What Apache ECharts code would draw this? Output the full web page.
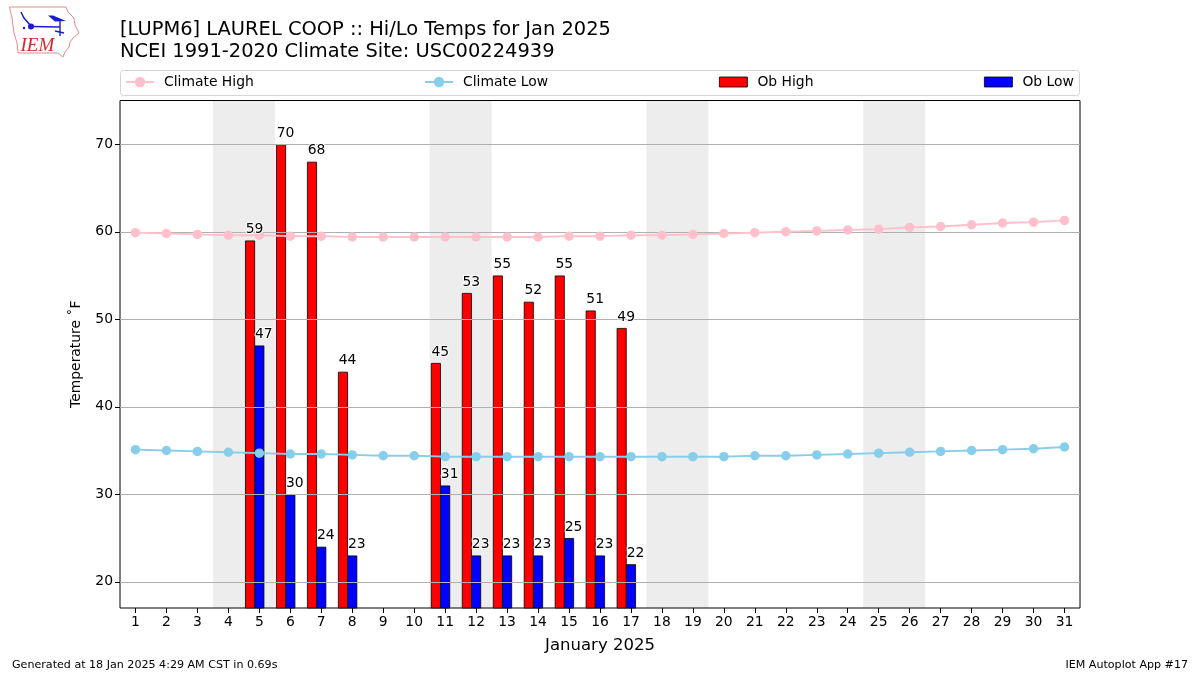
<!DOCTYPE html>
<html>
<head>
<meta charset="utf-8">
<style>html,body{margin:0;padding:0;background:#fff}#chart{width:1200px;height:675px}</style>
<script src="https://cdn.jsdelivr.net/npm/echarts@6/dist/echarts.min.js"></script>
</head>
<body>
<div id="chart"></div>
<script>
const days = [1,2,3,4,5,6,7,8,9,10,11,12,13,14,15,16,17,18,19,20,21,22,23,24,25,26,27,28,29,30,31];
const yTicks = [20,30,40,50,60,70];
const climateHigh = [59.9,59.8,59.7,59.6,59.6,59.5,59.5,59.4,59.4,59.4,59.4,59.4,59.4,59.4,59.5,59.5,59.6,59.6,59.7,59.8,59.9,60,60.1,60.2,60.3,60.5,60.6,60.8,61,61.1,61.3];
const climateLow = [35.1,35,34.9,34.8,34.7,34.6,34.6,34.5,34.4,34.4,34.3,34.3,34.3,34.3,34.3,34.3,34.3,34.3,34.3,34.3,34.4,34.4,34.5,34.6,34.7,34.8,34.9,35,35.1,35.2,35.4];
const obDays = [5,6,7,8,11,12,13,14,15,16,17];
const obHigh = [59,70,68,44,45,53,55,52,55,51,49];
const obLow = [47,30,24,23,31,23,23,23,25,23,22];
const weekendSpans = [[3.5,5.5],[10.5,12.5],[17.5,19.5],[24.5,26.5]];
const titleText = "[LUPM6] LAUREL COOP :: Hi/Lo Temps for Jan 2025\nNCEI 1991-2020 Climate Site: USC00224939";
const yAxisName = "Temperature ˚F";
const xAxisName = "January 2025";
const footerLeft = "Generated at 18 Jan 2025 4:29 AM CST in 0.69s";
const footerRight = "IEM Autoplot App #17";

const FONT = "DejaVu Sans";
const chart = echarts.init(document.getElementById('chart'), null, {renderer:'canvas'});

function labelSeries(name, pts){
  return {name:name, type:'scatter', z:6, silent:true, symbolSize:0, itemStyle:{opacity:1}, data:pts,
    label:{show:true, position:'top', distance:4, offset:[4.5,0], color:'#000', opacity:1, fontFamily:FONT, fontSize:13.9,
      textBorderColor:'#fff', textBorderWidth:2, formatter:p=>String(p.value[1])}};
}
function legendAt(name, left, top, h, icon){
  const l = {data:[name], left:left, top:top, itemWidth:28, itemHeight:h, padding:0, selectedMode:false,
    textStyle:{fontFamily:FONT, fontSize:13.9, color:'#000', padding:[0,0,0,5]}};
  if(icon){ l.icon = icon; l.itemStyle = {borderWidth:0.8}; }
  return l;
}
const highPts = obDays.map((d,i)=>[d-0.3,obHigh[i]]);
const lowPts = obDays.map((d,i)=>[d,obLow[i]]);

chart.setOption({
  animation:false,
  backgroundColor:'#fff',
  title:[
    {text:titleText, left:120, top:19, padding:0, textStyle:{fontFamily:FONT, fontSize:19.45, fontWeight:'normal', color:'#000', lineHeight:22}},
    {text:footerLeft, left:12, top:660, padding:0, textStyle:{fontFamily:FONT, fontSize:11.1, fontWeight:'normal', color:'#000'}},
    {text:footerRight, right:12, top:660, padding:0, textStyle:{fontFamily:FONT, fontSize:11.1, fontWeight:'normal', color:'#000'}}
  ],
  legend:[legendAt('Climate High',125,75,13),legendAt('Climate Low',424,75,13),legendAt('Ob High',719,75,10,'rect'),legendAt('Ob Low',984,75,10,'rect')],
  grid:{left:120, right:120, top:100.5, bottom:67, show:true, z:1.5, borderColor:'#000', borderWidth:1, backgroundColor:'transparent'},
  xAxis:{type:'value', min:0.5, max:31.5, z:3,
    name:xAxisName, nameLocation:'middle', nameGap:29,
    nameTextStyle:{fontFamily:FONT, fontSize:16.5, color:'#000'},
    axisLine:{show:false},
    axisTick:{show:true, length:5, customValues:days, lineStyle:{color:'#000', width:1}},
    axisLabel:{customValues:days, margin:7, fontFamily:FONT, fontSize:13.9, color:'#000', formatter:v=>String(v)},
    splitLine:{show:false}},
  yAxis:{type:'value', min:17, max:75, z:3,
    name:yAxisName, nameLocation:'middle', nameGap:37,
    nameTextStyle:{fontFamily:FONT, fontSize:13.9, color:'#000'},
    axisLine:{show:false},
    axisTick:{show:true, length:5, customValues:yTicks, lineStyle:{color:'#000', width:1}},
    axisLabel:{customValues:yTicks, margin:7, padding:[4,0,0,0], fontFamily:FONT, fontSize:13.9, color:'#000'},
    splitLine:{show:true, lineStyle:{color:'#b0b0b0', width:1}}},
  series:[
    {name:'Climate High', type:'line', z:4, data:days.map((d,i)=>[d,climateHigh[i]]), color:'#ffc0cb',
      symbol:'circle', symbolSize:9.5, lineStyle:{color:'#ffc0cb', width:2}, itemStyle:{color:'#ffc0cb'},
      markArea:{silent:true, z:1, itemStyle:{color:'#ededed', opacity:1},
        data:weekendSpans.map(s=>[{xAxis:s[0]},{xAxis:s[1]}])}},
    {name:'Climate Low', type:'line', z:4, data:days.map((d,i)=>[d,climateLow[i]]), color:'#87ceeb',
      symbol:'circle', symbolSize:9.5, lineStyle:{color:'#87ceeb', width:2}, itemStyle:{color:'#87ceeb'}},
    {name:'Ob High', type:'bar', z:2, barWidth:10, barGap:'-100%', data:highPts,
      itemStyle:{color:'#ff0000', borderColor:'#000', borderWidth:0.8}},
    {name:'Ob Low', type:'bar', z:2, barWidth:10, barGap:'-100%', data:lowPts,
      itemStyle:{color:'#0000ff', borderColor:'#000', borderWidth:0.8}},
    labelSeries('Ob High values', highPts),
    labelSeries('Ob Low values', lowPts)
  ],
  graphic:[
    {type:'rect', z:-1, silent:true, shape:{x:120.5,y:70.5,width:959,height:25,r:3}, style:{fill:'#fff', stroke:'#d4d4d4', lineWidth:1}},
    {type:'polygon', silent:true, shape:{points:[[9.5,7],[66,7],[68,12],[74,18],[75,25],[79,33],[73,38],[70,42],[69,47],[65,52],[63,57],[58,53],[18,53],[17,43],[14,33],[12,18]]}, style:{fill:'#fff', stroke:'#e58a8a', lineWidth:1}},
    {type:'polyline', silent:true, shape:{points:[[21,12],[24,18],[31,26]]}, style:{fill:null, stroke:'#1a1ad8', lineWidth:1.5}},
    {type:'circle', silent:true, shape:{cx:31,cy:26.5,r:3}, style:{fill:'#1a1ad8'}},
    {type:'line', silent:true, shape:{x1:31,y1:26.5,x2:60,y2:27}, style:{stroke:'#1a1ad8', lineWidth:1.6}},
    {type:'polygon', silent:true, shape:{points:[[48,15.5],[53,15.5],[66,21],[55,21.5]]}, style:{fill:'#1a1ad8'}},
    {type:'line', silent:true, shape:{x1:60,y1:21,x2:60,y2:36}, style:{stroke:'#1a1ad8', lineWidth:1.4}},
    {type:'line', silent:true, shape:{x1:55,y1:31,x2:64,y2:33}, style:{stroke:'#1a1ad8', lineWidth:1.4}},
    {type:'circle', silent:true, shape:{cx:24,cy:28,r:1.2}, style:{fill:'#1a1ad8'}},
    {type:'text', silent:true, style:{text:'IEM', x:20.5, y:36, fontFamily:'Liberation Serif', fontStyle:'italic', fontSize:19, fill:'#d62828'}}
  ]
});
</script>
</body>
</html>
